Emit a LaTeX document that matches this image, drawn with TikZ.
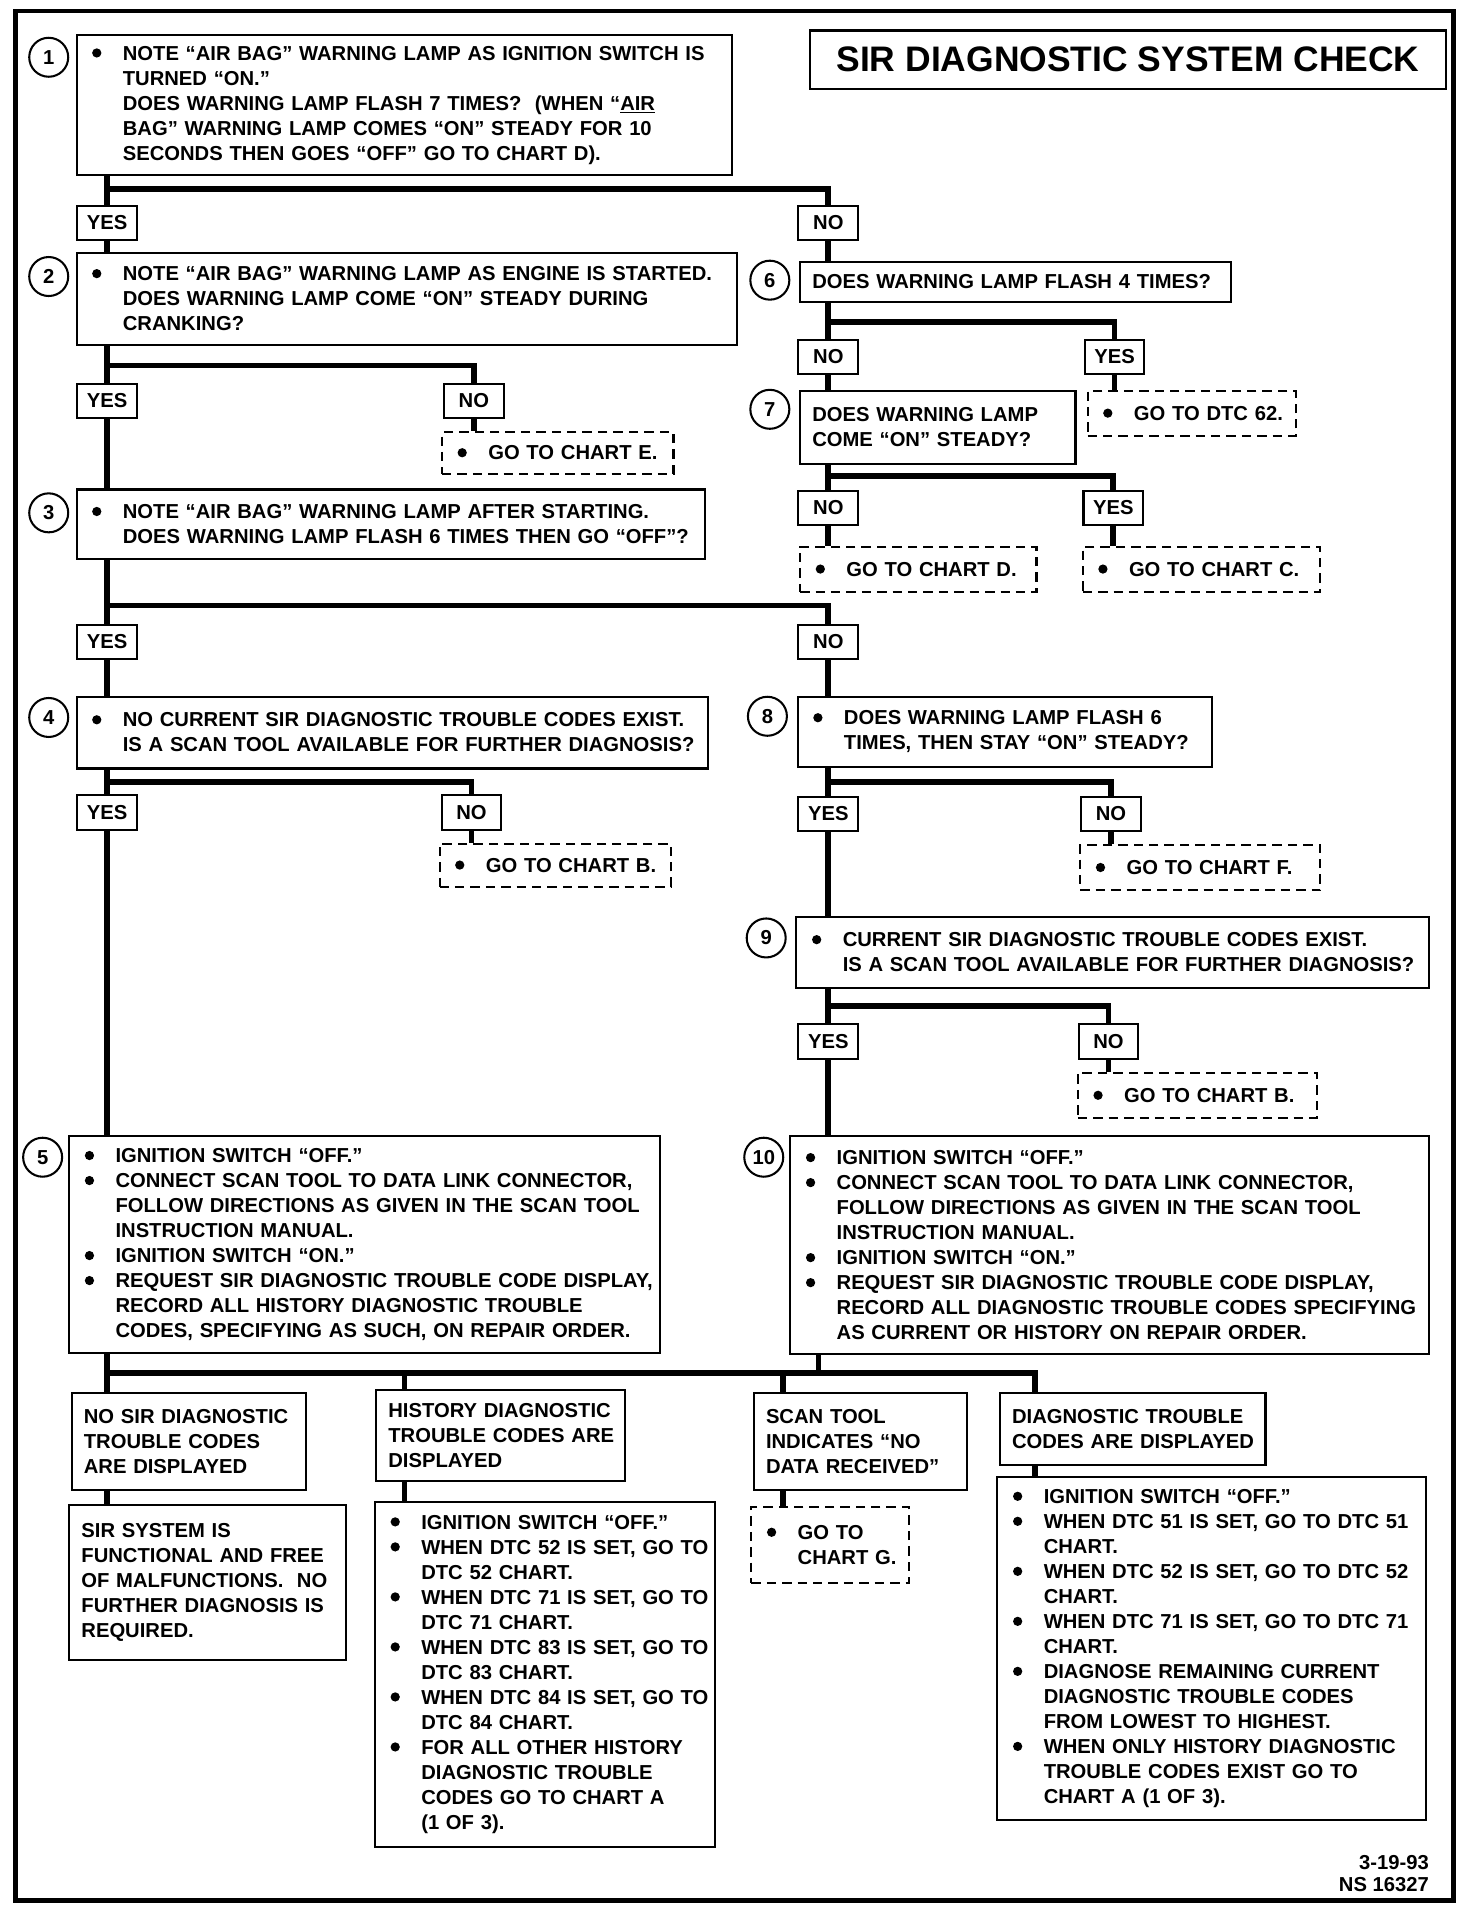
\documentclass[tikz,border=0pt]{standalone}
\usepackage{fontspec}
\setmainfont{Liberation Sans}
\usetikzlibrary{backgrounds}

\newcommand{\bul}{\makebox[0.85cm][l]{\hspace{0.22cm}%
  \tikz[baseline=-4.2pt]\fill (0,0) circle (2.7pt);}}
\newcommand{\ind}{\hspace*{0.85cm}}

\begin{document}
\begin{tikzpicture}[
    x=0.025cm, y=-0.025cm,
    font=\bfseries\fontsize{11.8}{14.6}\selectfont,
    stepbox/.style={rectangle, draw, line width=1.2pt, fill=white,
                    anchor=north west, align=left, inner xsep=0.1cm,
                    inner ysep=0pt},
    plainbox/.style={stepbox, execute at begin node={\leftskip=0.15cm\relax}},
    gotobox/.style={stepbox, dash pattern=on 5.5pt off 3.5pt},
    ans/.style={rectangle, draw, line width=1.2pt, fill=white,
                minimum width=1.225cm, minimum height=0.7cm, inner sep=0pt},
    num/.style={circle, draw, line width=1.2pt, minimum size=0.8cm,
                inner sep=0pt},
    conn/.style={line width=3.4pt},
  ]
  \useasboundingbox (0,0) rectangle (1208,1568);

  % frame and title
  \draw[line width=2.8pt] (13,9) rectangle (1193,1560);
  \node[rectangle, draw, line width=1.4pt, anchor=north west,
        minimum width=13.05cm, minimum height=1.2cm,
        font=\bfseries\fontsize{20.7}{24}\selectfont] (title) at (664,24)
        {SIR DIAGNOSTIC SYSTEM CHECK};

  % left column
  \node[num] (c1) at (40,47) {1};
  \node[stepbox, text width=13.25cm, minimum height=2.875cm] (b1) at (62,28)
    {\bul NOTE ``AIR BAG'' WARNING LAMP AS IGNITION SWITCH IS\\
     \ind TURNED ``ON.''\\
     \ind DOES WARNING LAMP FLASH 7 TIMES?\ \ (WHEN ``\underline{AIR}\\
     \ind BAG'' WARNING LAMP COMES ``ON'' STEADY FOR 10\\
     \ind SECONDS THEN GOES ``OFF'' GO TO CHART D).};
  \node[ans] (y1) at (88,183) {YES};
  \node[ans] (n1) at (680,183) {NO};

  \node[num] (c2) at (40,227) {2};
  \node[stepbox, text width=13.35cm, minimum height=1.875cm] (b2) at (62,207)
    {\bul NOTE ``AIR BAG'' WARNING LAMP AS ENGINE IS STARTED.\\
     \ind DOES WARNING LAMP COME ``ON'' STEADY DURING\\
     \ind CRANKING?};
  \node[ans] (y2) at (88,329) {YES};
  \node[ans] (n2) at (389,329) {NO};
  \node[gotobox, text width=4.55cm, minimum height=0.85cm] (go2) at (362,354)
    {\bul GO TO CHART E.};

  \node[num] (c3) at (40,421) {3};
  \node[stepbox, text width=12.7cm, minimum height=1.425cm] (b3) at (62,401)
    {\bul NOTE ``AIR BAG'' WARNING LAMP AFTER STARTING.\\
     \ind DOES WARNING LAMP FLASH 6 TIMES THEN GO ``OFF''?};
  \node[ans] (y3) at (88,527) {YES};
  \node[ans] (n3) at (680,527) {NO};

  \node[num] (c4) at (40,589) {4};
  \node[stepbox, text width=12.75cm, minimum height=1.475cm] (b4) at (62,571)
    {\bul NO CURRENT SIR DIAGNOSTIC TROUBLE CODES EXIST.\\
     \ind IS A SCAN TOOL AVAILABLE FOR FURTHER DIAGNOSIS?};
  \node[ans] (y4) at (88,667) {YES};
  \node[ans] (n4) at (387,667) {NO};
  \node[gotobox, text width=4.55cm, minimum height=0.875cm] (go4) at (360,692)
    {\bul GO TO CHART B.};

  \node[num] (c5) at (35,950) {5};
  \node[stepbox, text width=11.925cm, minimum height=4.45cm] (b5) at (56,932)
    {\bul IGNITION SWITCH ``OFF.''\\
     \bul CONNECT SCAN TOOL TO DATA LINK CONNECTOR,\\
     \ind FOLLOW DIRECTIONS AS GIVEN IN THE SCAN TOOL\\
     \ind INSTRUCTION MANUAL.\\
     \bul IGNITION SWITCH ``ON.''\\
     \bul REQUEST SIR DIAGNOSTIC TROUBLE CODE DISPLAY,\\
     \ind RECORD ALL HISTORY DIAGNOSTIC TROUBLE\\
     \ind CODES, SPECIFYING AS SUCH, ON REPAIR ORDER.};

  % right column
  \node[num] (c6) at (632,230) {6};
  \node[plainbox, text width=8.65cm, minimum height=0.825cm] (b6) at (656,214)
    {DOES WARNING LAMP FLASH 4 TIMES?};
  \node[ans] (n6) at (680,293) {NO};
  \node[ans] (y6) at (915,293) {YES};
  \node[gotobox, text width=4.075cm, minimum height=0.925cm] (go6) at (892,320)
    {\bul GO TO DTC 62.};

  \node[num] (c7) at (632,336) {7};
  \node[plainbox, text width=5.45cm, minimum height=1.5cm] (b7) at (656,320)
    {DOES WARNING LAMP\\COME ``ON'' STEADY?};
  \node[ans] (n7) at (680,417) {NO};
  \node[ans] (y7) at (914,417) {YES};
  \node[gotobox, text width=4.65cm, minimum height=0.925cm] (go7n) at (656,448)
    {\bul GO TO CHART D.};
  \node[gotobox, text width=4.675cm, minimum height=0.925cm] (go7y) at (888,448)
    {\bul GO TO CHART C.};

  \node[num] (c8) at (630,588) {8};
  \node[stepbox, text width=8.3cm, minimum height=1.45cm] (b8) at (654,571)
    {\bul DOES WARNING LAMP FLASH 6\\
     \ind TIMES, THEN STAY ``ON'' STEADY?};
  \node[ans] (y8) at (680,668) {YES};
  \node[ans] (n8) at (912,668) {NO};
  \node[gotobox, text width=4.725cm, minimum height=0.925cm] (go8) at (886,693)
    {\bul GO TO CHART F.};

  \node[num] (c9) at (629,770) {9};
  \node[stepbox, text width=12.775cm, minimum height=1.45cm] (b9) at (653,752)
    {\bul CURRENT SIR DIAGNOSTIC TROUBLE CODES EXIST.\\
     \ind IS A SCAN TOOL AVAILABLE FOR FURTHER DIAGNOSIS?};
  \node[ans] (y9) at (680,855) {YES};
  \node[ans] (n9) at (910,855) {NO};
  \node[gotobox, text width=4.7cm, minimum height=0.925cm] (go9) at (884,880)
    {\bul GO TO CHART B.};

  \node[num] (c10) at (627,950) {10};
  \node[stepbox, text width=12.9cm, minimum height=4.475cm] (b10) at (648,932)
    {\bul IGNITION SWITCH ``OFF.''\\
     \bul CONNECT SCAN TOOL TO DATA LINK CONNECTOR,\\
     \ind FOLLOW DIRECTIONS AS GIVEN IN THE SCAN TOOL\\
     \ind INSTRUCTION MANUAL.\\
     \bul IGNITION SWITCH ``ON.''\\
     \bul REQUEST SIR DIAGNOSTIC TROUBLE CODE DISPLAY,\\
     \ind RECORD ALL DIAGNOSTIC TROUBLE CODES SPECIFYING\\
     \ind AS CURRENT OR HISTORY ON REPAIR ORDER.};

  % results
  \node[plainbox, text width=4.6cm, minimum height=1.975cm] (r1) at (58,1143)
    {NO SIR DIAGNOSTIC\\TROUBLE CODES\\ARE DISPLAYED};
  \node[plainbox, text width=4.9cm, minimum height=1.875cm] (r2) at (308,1140)
    {HISTORY DIAGNOSTIC\\TROUBLE CODES ARE\\DISPLAYED};
  \node[plainbox, text width=4.175cm, minimum height=1.975cm] (r3) at (618,1143)
    {SCAN TOOL\\INDICATES ``NO\\DATA RECEIVED''};
  \node[plainbox, text width=5.25cm, minimum height=1.475cm] (r4) at (820,1143)
    {DIAGNOSTIC TROUBLE\\CODES ARE DISPLAYED};

  \node[plainbox, text width=5.475cm, minimum height=3.175cm] (s1) at (56,1235)
    {SIR SYSTEM IS\\FUNCTIONAL AND FREE\\OF MALFUNCTIONS.\ \ NO\\
     FURTHER DIAGNOSIS IS\\REQUIRED.};
  \node[stepbox, text width=6.775cm, minimum height=7.075cm] (s2) at (307,1232)
    {\bul IGNITION SWITCH ``OFF.''\\
     \bul WHEN DTC 52 IS SET, GO TO\\
     \ind DTC 52 CHART.\\
     \bul WHEN DTC 71 IS SET, GO TO\\
     \ind DTC 71 CHART.\\
     \bul WHEN DTC 83 IS SET, GO TO\\
     \ind DTC 83 CHART.\\
     \bul WHEN DTC 84 IS SET, GO TO\\
     \ind DTC 84 CHART.\\
     \bul FOR ALL OTHER HISTORY\\
     \ind DIAGNOSTIC TROUBLE\\
     \ind CODES GO TO CHART A\\
     \ind (1 OF 3).};
  \node[gotobox, text width=3.025cm, minimum height=1.575cm] (s3) at (616,1236)
    {\bul GO TO\\\ind CHART G.};
  \node[stepbox, text width=8.6cm, minimum height=7.025cm] (s4) at (818,1212)
    {\bul IGNITION SWITCH ``OFF.''\\
     \bul WHEN DTC 51 IS SET, GO TO DTC 51\\
     \ind CHART.\\
     \bul WHEN DTC 52 IS SET, GO TO DTC 52\\
     \ind CHART.\\
     \bul WHEN DTC 71 IS SET, GO TO DTC 71\\
     \ind CHART.\\
     \bul DIAGNOSE REMAINING CURRENT\\
     \ind DIAGNOSTIC TROUBLE CODES\\
     \ind FROM LOWEST TO HIGHEST.\\
     \bul WHEN ONLY HISTORY DIAGNOSTIC\\
     \ind TROUBLE CODES EXIST GO TO\\
     \ind CHART A (1 OF 3).};

  \node[anchor=north east, align=right,
        font=\bfseries\fontsize{11.8}{13}\selectfont] (stamp) at (1178,1518)
    {3-19-93\\NS 16327};

  \coordinate (jl) at (88,1127);
  \coordinate (jr) at (850,1127);

  \begin{scope}[on background layer]
    \foreach \a/\b/\l in {b1/b2/y1, b2/b3/y2, b3/b4/y3, b4/b5/y4,
                          b6/b7/n6, b7/go7n/n7, b8/b9/y8, b9/b10/y9}
      \draw[conn] (\a.south -| \l) -- (\b.north -| \l);
    \foreach \l/\y/\r/\t in {y1/155/n1/b6, y2/300/n2/go2, y3/497/n3/b8,
                             y4/642/n4/go4, n6/264/y6/go6, n7/391/y7/go7y,
                             y8/642/n8/go8, y9/826/n9/go9}
      \draw[conn] (\l |- 0,\y) -| (\t.north -| \r);
    \draw[conn] (b5.south -| jl) -- (r1.north -| jl);
    \draw[conn] (jl) -- (jr) -- (r4.north -| jr);
    \draw[conn] (b10.south -| 672,0) -- (jl -| 672,0);
    \foreach \t/\x in {r2/332, r3/643}
      \draw[conn] (jl -| \x,0) -- (\t.north -| \x,0);
    \foreach \a/\b/\x in {r1/s1/88, r2/s2/332, r3/s3/643, r4/s4/850}
      \draw[conn] (\a.south -| \x,0) -- (\b.north -| \x,0);
  \end{scope}
\end{tikzpicture}
\end{document}
